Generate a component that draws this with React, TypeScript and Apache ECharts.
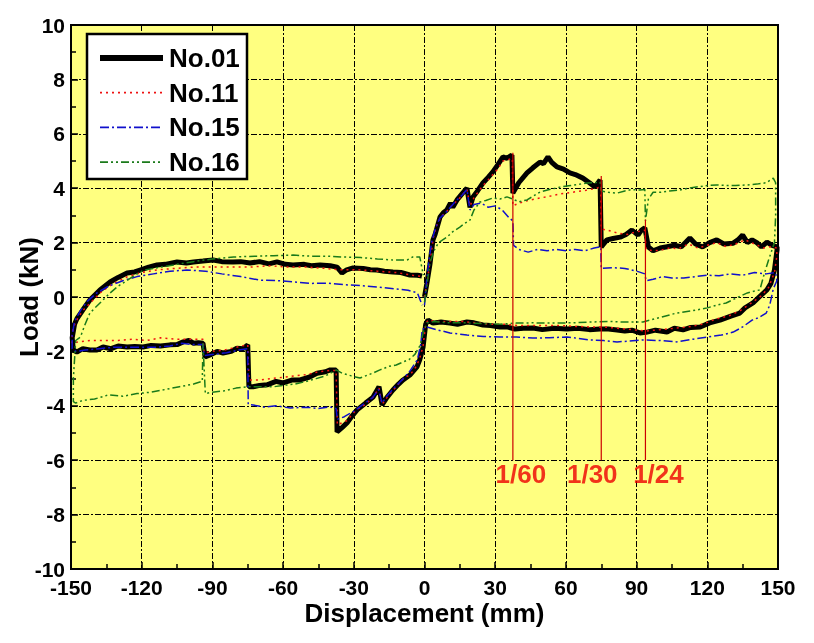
import React, { useEffect, useRef } from "react";
import * as echarts from "echarts";

// ---------------- data (displacement mm, load kN) ----------------
const seriesNames = ["No.01", "No.11", "No.15", "No.16"];

const n01: number[][] = [
  [0, 0], [1, 0.5], [2.3, 1.2], [3.6, 2.1], [4.5, 2.3], [6.6, 2.94], [8, 3.1], [9.5, 3.2], [11, 3.45], [12, 3.3],
  [13.8, 3.57], [16, 3.8], [18, 4.0], [19.3, 3.3], [20.6, 3.68], [22.5, 3.9], [24.8, 4.19], [27, 4.4], [29, 4.6],
  [31, 4.85], [33.3, 5.15], [35, 5.1], [37.1, 5.22], [37.5, 3.82], [40, 4.2], [43.5, 4.56], [46, 4.75], [49, 4.96],
  [50.5, 4.9], [52.4, 5.15], [54, 4.95], [56.2, 4.78], [59, 4.7], [61.7, 4.56], [64, 4.5], [67.2, 4.37], [70, 4.2],
  [72.3, 4.04], [74.5, 4.3], [75, 1.84], [77.4, 2.1], [80, 2.15], [83, 2.2], [85.5, 2.3], [88, 2.46], [90.6, 2.28],
  [92, 2.45], [93.5, 2.54], [95, 1.84], [97, 1.7], [100, 1.8], [103, 1.85], [106, 1.9], [109, 1.85], [112.6, 2.17],
  [115, 1.95], [118, 1.84], [121, 2.0], [124, 2.1], [127, 1.95], [131, 1.98], [133, 2.1], [135, 2.28], [137, 2.0],
  [139, 2.1], [141, 2.0], [143, 1.84], [145.3, 2.02], [147.5, 1.9], [149.6, 1.84],
  [149.6, 1.73], [148.5, 1.0], [147, 0.5], [145.3, 0.26], [142, 0.0], [139.4, -0.22], [136, -0.4], [133.8, -0.59],
  [130, -0.7], [125.4, -0.85], [121, -0.95], [117, -1.1], [113, -1.12], [109.7, -1.21], [106, -1.15], [102.9, -1.29],
  [98, -1.22], [94, -1.3], [91.4, -1.32], [88, -1.22], [85, -1.25], [81.7, -1.21], [78, -1.18], [74.5, -1.18],
  [70, -1.2], [65, -1.15], [60.5, -1.18], [55, -1.15], [50, -1.2], [46, -1.14], [42, -1.15], [38.4, -1.18],
  [35, -1.1], [32, -1.1], [28, -1.05], [24.8, -1.03], [21, -0.95], [18, -0.92], [14, -1.0], [10.8, -0.96],
  [7, -0.92], [3.6, -0.96], [1.5, -0.85], [0.5, -1.0],
  [-0.6, -1.84], [-2, -2.3], [-3.2, -2.57], [-6.2, -2.87], [-9.1, -3.05], [-11, -3.2], [-13.4, -3.42], [-16, -3.7],
  [-18, -3.97], [-19.3, -3.3], [-21.8, -3.68], [-25, -3.9], [-28.6, -4.15], [-30.5, -4.35], [-32.9, -4.63],
  [-35, -4.8], [-37.1, -4.96], [-37.5, -2.68], [-40, -2.68], [-42, -2.75], [-45.6, -2.8], [-49, -2.95],
  [-52.8, -3.05], [-56, -3.05], [-60, -3.16], [-63, -3.1], [-66.8, -3.23], [-70, -3.25], [-72.7, -3.3],
  [-74.5, -3.3], [-75, -1.76], [-77, -1.9], [-79.6, -1.88], [-82, -2.0], [-85.5, -2.06], [-88, -2.0], [-91, -2.13],
  [-93.1, -2.2], [-94, -1.7], [-96, -1.68], [-98, -1.7], [-100, -1.6], [-102.4, -1.65], [-105, -1.75], [-108, -1.76],
  [-112, -1.8], [-116, -1.78], [-119.4, -1.84], [-123, -1.82], [-126.2, -1.84], [-130, -1.8], [-133, -1.9],
  [-136.4, -1.84], [-139, -1.95], [-142, -1.95], [-145, -1.9], [-147.5, -2.02], [-149, -1.95],
  [-149.5, -1.5], [-148.5, -1.0], [-147.5, -0.8], [-145, -0.48], [-142, -0.11], [-137.7, 0.26], [-133.4, 0.55],
  [-130, 0.72], [-126.2, 0.88], [-123, 0.92], [-120.7, 0.99], [-117, 1.1], [-113.5, 1.18], [-110, 1.2], [-105, 1.29],
  [-101, 1.25], [-98, 1.29], [-94, 1.32], [-89.7, 1.36], [-86, 1.3], [-81.3, 1.29], [-78, 1.3], [-74, 1.25],
  [-70, 1.3], [-66, 1.22], [-62.6, 1.29], [-59, 1.2], [-55.8, 1.18], [-51, 1.2], [-48, 1.15], [-44.3, 1.18],
  [-40, 1.15], [-37.1, 1.1], [-35, 0.88], [-33, 1.0], [-30.3, 1.07], [-26, 1.05], [-23, 1.0], [-20.2, 0.99],
  [-17, 0.95], [-13.4, 0.92], [-10, 0.9], [-6.2, 0.81], [-3, 0.8], [-1.1, 0.77],
];

const n11: number[][] = [
  [0, 0], [1.2, 0.6], [2.5, 1.4], [3.8, 2.2], [5, 2.6], [7, 2.95], [9.5, 3.15], [12, 3.4], [14, 3.55], [16, 3.75],
  [18, 3.95], [19.3, 3.35], [21, 3.65], [24.8, 4.1], [27, 4.3], [29, 4.5], [31, 4.7], [33.3, 5.0], [35.5, 5.05],
  [37.3, 5.1], [37.5, 3.35], [40, 3.45], [44, 3.55], [49, 3.64], [53, 3.7], [57, 3.78], [60.5, 3.82], [65, 3.88],
  [69, 3.93], [73, 4.0], [74.8, 4.05], [75, 2.5], [78, 2.45], [82, 2.35], [86, 2.3], [90, 2.4], [93.5, 2.45],
  [94, 1.75], [97, 1.7], [100, 1.72], [104, 1.8], [108, 1.78], [112, 1.95], [116, 1.8], [120, 1.9], [124, 2.0],
  [128, 1.85], [132, 1.95], [136, 2.1], [140, 1.95], [144, 1.8], [147, 1.85], [149.5, 1.8],
  [149.5, 1.5], [148.5, 0.9], [146, 0.35], [143, 0.05], [139, -0.2], [134, -0.5], [129, -0.7], [124, -0.8],
  [118, -1.0], [112, -1.1], [106, -1.15], [100, -1.2], [94, -1.25], [88, -1.2], [82, -1.15], [76, -1.1], [70, -1.1],
  [64, -1.08], [58, -1.05], [52, -1.05], [46, -1.05], [40, -1.05], [34, -1.0], [28, -1.0], [22, -0.95], [16, -0.9],
  [10, -0.9], [5, -0.9], [1.5, -0.85], [0.5, -1.0],
  [-0.6, -1.8], [-2, -2.25], [-3.5, -2.55], [-6, -2.85], [-9, -3.0], [-13, -3.4], [-16, -3.7], [-18, -3.95],
  [-19.3, -3.35], [-22, -3.7], [-25, -3.95], [-29, -4.15], [-33, -4.55], [-37, -4.7], [-37.5, -2.7], [-40, -2.7],
  [-45, -2.75], [-50, -2.85], [-55, -2.9], [-60, -2.95], [-65, -3.0], [-70, -3.05], [-74.5, -3.05], [-75, -1.75],
  [-80, -1.85], [-85, -1.95], [-90, -2.0], [-93.5, -2.05], [-94, -1.55], [-100, -1.55], [-106, -1.55],
  [-112, -1.5], [-118, -1.6], [-124, -1.55], [-130, -1.6], [-136, -1.6], [-142, -1.6], [-147, -1.65],
  [-149.5, -1.7],
  [-149.5, -1.3], [-148, -0.9], [-145, -0.5], [-141, -0.15], [-137, 0.2], [-132, 0.5], [-126, 0.75], [-120, 0.9],
  [-113, 1.0], [-106, 1.05], [-98, 1.1], [-90, 1.1], [-82, 1.1], [-74, 1.1], [-66, 1.15], [-58, 1.1], [-50, 1.1],
  [-42, 1.05], [-36, 1.0], [-28, 1.0], [-20, 0.95], [-12, 0.9], [-5, 0.8], [-1, 0.75],
];

const n15: number[][] = [
  [0, -0.3], [0.8, 0.5], [1.8, 1.3], [3, 2.0], [4.5, 2.5], [6.5, 2.9], [9, 3.1], [11, 3.3], [13.5, 3.55],
  [16, 3.75], [18, 3.95], [19.3, 3.2], [21, 3.4], [24, 3.45], [27, 3.3], [30, 3.35], [33, 3.2], [36, 2.9],
  [37.5, 2.8], [37.8, 1.9], [40, 1.75], [44, 1.65], [48, 1.75], [52, 1.7], [56, 1.75], [60, 1.7], [64, 1.75],
  [68, 1.7], [72, 1.8], [74.8, 1.85], [75, 1.05], [80, 1.08], [85, 1.05], [90, 0.95], [93.5, 0.85], [94, 0.6],
  [97, 0.65], [101, 0.75], [105, 0.7], [110, 0.7], [115, 0.75], [120, 0.8], [125, 0.78], [130, 0.85], [135, 0.8],
  [140, 0.9], [145, 0.85], [149, 0.9],
  [149.5, 0.6], [148, 0.3], [146.5, -0.3], [145, -0.59], [142, -0.75], [139, -0.85], [135, -1.1], [131, -1.29],
  [126, -1.4], [120, -1.47], [114, -1.55], [107, -1.65], [100, -1.6], [92.7, -1.58], [87, -1.62], [81.7, -1.65],
  [76, -1.6], [70, -1.58], [65, -1.52], [60.5, -1.47], [53, -1.5], [46, -1.51], [39, -1.47], [32, -1.47],
  [25, -1.45], [18, -1.4], [10.8, -1.32], [5, -1.2], [1, -1.1], [-1, -1.2],
  [-1.5, -1.7], [-3, -2.3], [-6, -2.7], [-9, -3.0], [-13, -3.35], [-16, -3.65], [-18, -3.9], [-19.5, -3.4],
  [-22, -3.7], [-26, -3.95], [-30, -4.2], [-34, -4.4], [-37, -4.5], [-37.5, -4.1], [-40, -4.04], [-45, -4.1],
  [-50, -4.05], [-57, -4.08], [-63, -4.0], [-68, -4.05], [-72.7, -3.97], [-74.8, -3.95], [-75, -1.9], [-79, -1.95],
  [-84, -2.05], [-89, -2.1], [-93.5, -2.15], [-94, -1.75], [-98, -1.75], [-103, -1.7], [-108, -1.8], [-114, -1.85],
  [-120, -1.85], [-126, -1.85], [-132, -1.85], [-138, -1.9], [-144, -1.95], [-148, -2.0], [-149.5, -1.9],
  [-149.5, -1.4], [-148.5, -0.9], [-146, -0.5], [-143, -0.15], [-139, 0.15], [-134, 0.4], [-128, 0.6],
  [-122, 0.75], [-115, 0.85], [-108, 0.95], [-100.8, 0.99], [-93, 0.95], [-86, 0.85], [-78, 0.75], [-69.8, 0.62],
  [-62, 0.6], [-55, 0.55], [-48, 0.5], [-41.4, 0.51], [-34, 0.45], [-27, 0.42], [-20.2, 0.37], [-13, 0.3],
  [-7, 0.25], [-3, 0.15], [-1, -0.3],
];

const n16: number[][] = [
  [0, -0.2], [1, 0.4], [2.3, 1.25], [4, 1.7], [6, 2.0], [9.5, 2.2], [12, 2.4], [15, 2.57], [17, 2.7], [19.3, 2.83],
  [21, 3.2], [23.5, 3.49], [26, 3.55], [29, 3.64], [32, 3.6], [35, 3.68], [37.5, 3.6], [40, 3.5], [43.5, 3.57],
  [46, 3.7], [49, 3.86], [53, 3.95], [57.5, 4.04], [62, 4.1], [66, 4.15], [69, 4.19], [72, 4.2], [74.5, 4.23],
  [75, 3.9], [78, 3.85], [81.7, 3.82], [85, 3.9], [88, 3.95], [91.4, 3.93], [93.5, 3.95], [93.75, 2.8], [95, 3.6],
  [97, 3.85], [100, 3.85], [104, 3.9], [108, 3.93], [112, 4.0], [116, 4.05], [120, 4.1], [124, 4.12], [128, 4.1],
  [132, 4.1], [137, 4.12], [141, 4.15], [145, 4.2], [148, 4.37], [149, 4.2],
  [149, 3.0], [148.5, 2.0], [146, 1.36], [144, 0.8], [142.3, 0.26], [139, 0.2], [137, 0.15], [132, -0.05],
  [128, -0.22], [124, -0.3], [120, -0.4], [114, -0.5], [107, -0.59], [100, -0.75], [92.7, -0.92], [85, -0.92],
  [78, -0.9], [70, -0.92], [62, -0.95], [53, -0.96], [46, -0.95], [39, -0.96], [32, -1.0], [25, -0.98],
  [18, -0.95], [10, -0.95], [4, -0.9], [1, -0.95],
  [-0.5, -1.3], [-2, -1.8], [-4, -2.1], [-6.5, -2.3], [-9.1, -2.39], [-12, -2.5], [-15, -2.55], [-18.9, -2.68],
  [-22, -2.8], [-27.4, -2.98], [-31, -2.9], [-35, -2.8], [-37.5, -2.68], [-42, -2.9], [-46, -3.0], [-50, -3.1],
  [-55, -3.2], [-60, -3.25], [-64, -3.3], [-70, -3.3], [-75, -3.3], [-80, -3.35], [-85, -3.45], [-90, -3.5],
  [-93, -3.55], [-94, -1.7], [-94.3, -3.1], [-98, -3.2], [-104, -3.3], [-110, -3.4], [-116, -3.5], [-122, -3.55],
  [-128, -3.65], [-134, -3.6], [-140, -3.75], [-145, -3.8], [-148, -3.9], [-149, -3.85],
  [-149, -3.0], [-148, -1.6], [-146, -1.47], [-144, -1.0], [-142, -0.59], [-137.7, -0.22], [-133.4, 0.15],
  [-130, 0.4], [-126, 0.62], [-122, 0.85], [-119, 0.99], [-112, 1.1], [-105, 1.2], [-98, 1.3], [-90, 1.4],
  [-81, 1.47], [-72, 1.5], [-64, 1.52], [-55.8, 1.54], [-48, 1.5], [-41, 1.5], [-34.6, 1.47], [-27, 1.45],
  [-20, 1.4], [-13.4, 1.36], [-7.4, 1.36], [-5, 1.47], [-2, 1.47], [-0.5, 0.8],
];

// drift-ratio guide lines
const guideX = [37.5, 75, 93.75];
const guideTop = [5.3, 4.45, 2.85];
const guideBottom = -6;
const guideLabels = ["1/60", "1/30", "1/24"];

// axes
const xMin = -150, xMax = 150, xStep = 30;
const yMin = -10, yMax = 10, yStep = 2;

// ---------------- styles ----------------
const FONT = "'Liberation Sans', Arial, sans-serif";
const labelOffsets = [[8, 0], [-9, 0], [13, 0]];
const seriesStyles = [
  { color: "#000000", width: 5, type: "solid" as any, dash: null as any },
  { color: "#ee1111", width: 1.5, type: [2, 4] as any, dash: [2, 4] },
  { color: "#1010cc", width: 1.5, type: [9, 3, 2, 3] as any, dash: [9, 3, 2, 3] },
  { color: "#1a7a1a", width: 1.5, type: [8, 3, 2, 3, 2, 3] as any, dash: [8, 3, 2, 3, 2, 3] },
];
// legend box geometry
const LEG = { x: 87, y: 34, w: 160, h: 145, lineX1: 100, lineX2: 163, textX: 169, row0: 58, rowStep: 34.7 };

export default function App() {
  const ref = useRef<HTMLDivElement>(null);
  useEffect(() => {
    if (!ref.current) return;
    const chart = echarts.init(ref.current, null, { renderer: "svg" });
    const dataSets = [n01, n11, n15, n16];
    const mainSeries = dataSets.map((d, i) => ({
      name: seriesNames[i],
      type: "line",
      data: d,
      showSymbol: false,
      symbol: "none",
      lineStyle: { color: seriesStyles[i].color, width: seriesStyles[i].width, type: seriesStyles[i].type },
      itemStyle: { color: seriesStyles[i].color },
      z: 3 + i,
    }));
    const guideSeries = guideX.map((gx, i) => ({
      name: "guide" + i,
      type: "line",
      data: [[gx, guideTop[i]], [gx, guideBottom]],
      showSymbol: false,
      symbol: "none",
      lineStyle: { color: "#cc0000", width: 1.2 },
      z: 10,
      silent: true,
    }));
    const labelSeries = {
      name: "guideLabels",
      type: "scatter",
      symbolSize: 0,
      itemStyle: { color: "#ff0000" },
      data: guideX.map((gx, i) => ({
        value: [gx, guideBottom],
        label: {
          show: true,
          position: "bottom",
          distance: 1,
          offset: labelOffsets[i],
          formatter: guideLabels[i],
          color: "#ee0000",
          textBorderWidth: 0,
          fontFamily: FONT,
          fontWeight: "bold",
          fontSize: 26,
        },
      })),
      z: 11,
      silent: true,
    };
    const legendGraphic: any[] = [
      {
        type: "rect",
        shape: { x: LEG.x, y: LEG.y, width: LEG.w, height: LEG.h },
        style: { fill: "#ffffff", stroke: "#000000", lineWidth: 2.5 },
        z: 100,
      },
    ];
    seriesNames.forEach((name, i) => {
      const cy = LEG.row0 + i * LEG.rowStep;
      legendGraphic.push({
        type: "line",
        shape: { x1: LEG.lineX1, y1: cy, x2: LEG.lineX2, y2: cy },
        style: {
          stroke: seriesStyles[i].color,
          lineWidth: i === 0 ? 6 : 1.8,
          lineDash: seriesStyles[i].dash,
        },
        z: 101,
      });
      legendGraphic.push({
        type: "text",
        x: LEG.textX,
        y: cy,
        style: {
          text: name,
          fill: "#000",
          font: `bold 26px ${FONT}`,
          verticalAlign: "middle",
          align: "left",
        },
        z: 101,
      });
    });
    chart.setOption({
      animation: false,
      textStyle: { fontFamily: FONT },
      grid: {
        left: 71,
        right: 36,
        top: 25,
        bottom: 74,
        show: true,
        backgroundColor: "#FFFF80",
        borderColor: "#000",
        borderWidth: 2,
        containLabel: false,
        outerBoundsMode: "none",
      },
      graphic: legendGraphic,
      xAxis: {
        type: "value",
        min: xMin,
        max: xMax,
        interval: xStep,
        name: "Displacement (mm)",
        nameLocation: "middle",
        nameGap: 31,
        nameMoveOverlap: false,
        nameTextStyle: { fontFamily: FONT, fontWeight: "bold", fontSize: 26, color: "#000" },
        axisLine: { show: true, onZero: false, lineStyle: { color: "#000", width: 2 } },
        axisTick: { show: true, inside: true, length: 7, lineStyle: { color: "#000", width: 1.5 } },
        minorTick: { show: true, splitNumber: 2, length: 5, lineStyle: { color: "#000", width: 1.5 } },
        axisLabel: { fontFamily: FONT, fontWeight: "bold", fontSize: 21, color: "#000", margin: 8 },
        splitLine: { show: true, lineStyle: { color: "#000", width: 1, type: [6, 2, 2, 2] } },
      },
      yAxis: {
        type: "value",
        min: yMin,
        max: yMax,
        interval: yStep,
        name: "Load (kN)",
        nameLocation: "middle",
        nameGap: 29,
        nameMoveOverlap: false,
        nameTextStyle: { fontFamily: FONT, fontWeight: "bold", fontSize: 26, color: "#000" },
        axisLine: { show: true, onZero: false, lineStyle: { color: "#000", width: 2 } },
        axisTick: { show: true, inside: true, length: 7, lineStyle: { color: "#000", width: 1.5 } },
        minorTick: { show: true, splitNumber: 2, length: 5, lineStyle: { color: "#000", width: 1.5 } },
        axisLabel: { fontFamily: FONT, fontWeight: "bold", fontSize: 21, color: "#000", margin: 6 },
        splitLine: { show: true, lineStyle: { color: "#000", width: 1, type: [6, 2, 2, 2] } },
      },
      series: [...mainSeries, ...guideSeries, labelSeries],
    });
    return () => chart.dispose();
  }, []);
  return <div ref={ref} style={{ position: "fixed", left: 0, top: 0, width: 814, height: 643 }} />;
}
